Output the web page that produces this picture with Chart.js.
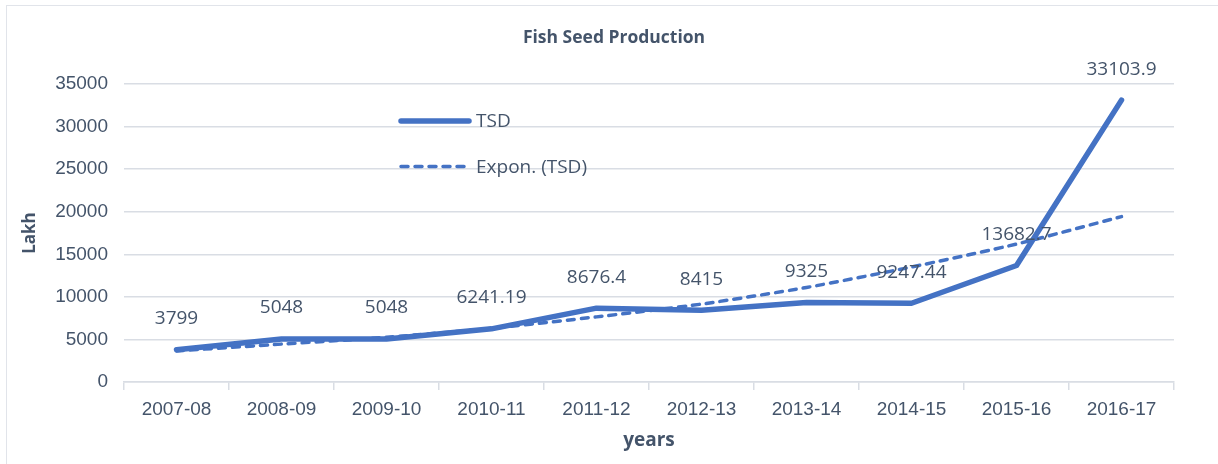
<!DOCTYPE html>
<html>
<head>
<meta charset="utf-8">
<script src="https://cdn.jsdelivr.net/npm/chart.js@4"></script>
<style>
  html, body { margin: 0; padding: 0; background: #fff; }
  #frame {
    position: absolute; left: 6px; top: 5px; width: 1300px; height: 600px;
    border-left: 1.5px solid #e1e4ea; border-top: 1.5px solid #e1e4ea;
  }
  #chart { position: absolute; left: 0; top: 0; }
</style>
</head>
<body>
<div id="frame"></div>
<canvas id="chart" width="1218" height="464"></canvas>
<script>
const years = ['2007-08', '2008-09', '2009-10', '2010-11', '2011-12', '2012-13', '2013-14', '2014-15', '2015-16', '2016-17'];
const tsd = [3799, 5048, 5048, 6241.19, 8676.4, 8415, 9325, 9247.44, 13682.7, 33103.9];
// trend line
const exponTsd = [3650, 4450, 5250, 6300, 7650, 9150, 11100, 13500, 16200, 19420];
const yTicks = [0, 5000, 10000, 15000, 20000, 25000, 30000, 35000];

const BLUE = '#4472C4';
const TEXT = '#44546A';
const GRID = '#d9dde4';

const titlePlugin = {
  id: 'fixedTitle',
  afterDraw(chart) {
    const ctx = chart.ctx;
    ctx.save();
    ctx.font = 'bold 17.5px "Open Sans"';
    ctx.fillStyle = TEXT;
    ctx.textAlign = 'center';
    ctx.textBaseline = 'middle';
    ctx.fillText('Fish Seed Production', 614, 38);
    ctx.restore();
  }
};

const valueLabels = {
  id: 'valueLabels',
  afterDatasetsDraw(chart) {
    const ctx = chart.ctx;
    const meta = chart.getDatasetMeta(0);
    ctx.save();
    ctx.font = '19px "Open Sans"';
    ctx.fillStyle = TEXT;
    ctx.textAlign = 'center';
    ctx.textBaseline = 'middle';
    meta.data.forEach((pt, i) => {
      ctx.fillText(String(tsd[i]), pt.x, pt.y - 31);
    });
    ctx.restore();
  }
};

const insideLegend = {
  id: 'insideLegend',
  afterDraw(chart) {
    const ctx = chart.ctx;
    ctx.save();
    chart.data.datasets.forEach((ds, i) => {
      const y = 121 + i * 45.5;
      ctx.strokeStyle = ds.borderColor;
      ctx.lineWidth = ds.borderWidth;
      ctx.lineCap = 'round';
      ctx.setLineDash(ds.borderDash || []);
      ctx.beginPath();
      ctx.moveTo(401, y);
      ctx.lineTo(469, y);
      ctx.stroke();
      ctx.setLineDash([]);
      ctx.font = '19px "Open Sans"';
      ctx.fillStyle = TEXT;
      ctx.textAlign = 'left';
      ctx.textBaseline = 'middle';
      ctx.fillText(ds.label, 476, y + 1);
    });
    ctx.restore();
  }
};

new Chart(document.getElementById('chart'), {
  type: 'line',
  data: {
    labels: years,
    datasets: [
      {
        label: 'TSD',
        data: tsd,
        borderColor: BLUE,
        borderWidth: 5.5,
        borderCapStyle: 'round',
        borderJoinStyle: 'round',
        pointRadius: 0,
        tension: 0,
      },
      {
        label: 'Expon. (TSD)',
        data: exponTsd,
        borderColor: BLUE,
        borderWidth: 3.5,
        borderDash: [7, 7],
        borderCapStyle: 'round',
        pointRadius: 0,
        tension: 0.2,
      }
    ]
  },
  options: {
    responsive: false,
    animation: false,
    layout: { padding: { top: 84, right: 44, left: 0, bottom: 0 } },
    plugins: {
      legend: { display: false },
      title: { display: false },
      tooltip: { enabled: false }
    },
    scales: {
      x: {
        offset: true,
        grid: { offset: true, drawOnChartArea: false, color: GRID, lineWidth: 1.5, tickLength: 8 },
        border: { color: GRID, width: 1.5 },
        ticks: {
          color: TEXT,
          font: { family: 'Liberation Sans', size: 19 },
          padding: 8,
          maxRotation: 0,
          autoSkip: false
        },
        title: {
          display: true,
          text: 'years',
          color: TEXT,
          font: { family: 'Open Sans', size: 19, weight: 'bold' },
          padding: { top: 0, bottom: 12 }
        },
        afterFit(scale) { scale.height = 82; }
      },
      y: {
        min: 0,
        max: 35000,
        afterBuildTicks(scale) { scale.ticks = yTicks.map(v => ({ value: v })); },
        grid: { color: GRID, lineWidth: 1.5, drawTicks: false },
        border: { display: false },
        ticks: {
          color: TEXT,
          font: { family: 'Liberation Sans', size: 19 },
          padding: 16,
          callback: v => String(v)
        },
        title: {
          display: true,
          text: 'Lakh',
          color: TEXT,
          font: { family: 'Open Sans', size: 17, weight: 'bold' },
          padding: { top: 20, bottom: 0 }
        },
        afterFit(scale) { scale.width = 124; }
      }
    }
  },
  plugins: [titlePlugin, valueLabels, insideLegend]
});
</script>
</body>
</html>
